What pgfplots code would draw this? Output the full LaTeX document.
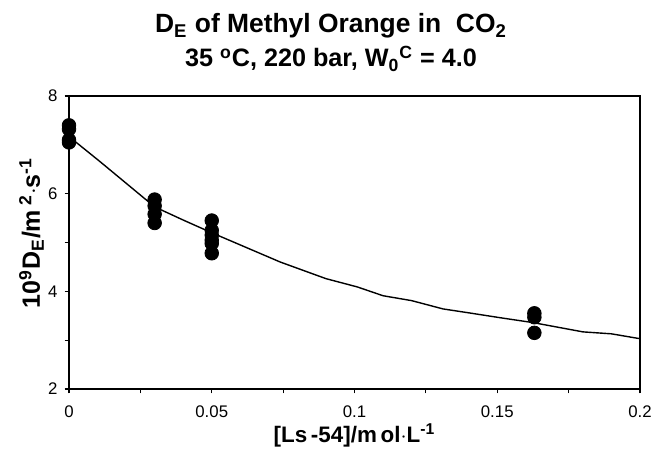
\documentclass[border=0pt]{standalone}
\usepackage{pgfplots}
\pgfplotsset{compat=1.18}
\usepackage{fontspec}
\setmainfont{Liberation Sans}

\begin{document}
\begin{tikzpicture}
\path[use as bounding box] (-34.5pt,-33.5pt) rectangle (292pt,194.5pt);
\begin{axis}[
    at={(0,0)}, anchor=south west,
    width=285.5pt, height=146.5pt,
    scale only axis,
    xmin=0, xmax=0.2,
    ymin=2, ymax=8,
    xtick={0,0.025,...,0.2},
    xticklabels={0,,0.05,,0.1,,0.15,,0.2},
    ytick={2,3,...,8},
    yticklabels={2,,4,,6,,8},
    tick align=outside,
    tick pos=left,
    major tick length=2.2pt,
    axis line style={line width=0.6pt},
    every tick/.style={black, line width=0.6pt},
    tick label style={font=\fontsize{8.4}{10}\selectfont},
    xticklabel style={yshift=-2.5pt},
    /pgf/number format/assume math mode=true,
    scaled x ticks=false,
    clip=false,
]
% fitted curve
\addplot[black, line width=0.7pt, no marks] coordinates {
(0,7.17) (0.011,6.65) (0.03,5.73) (0.04,5.46) (0.05,5.2) (0.074,4.6)
(0.09,4.26) (0.101,4.09) (0.11,3.91) (0.12,3.81) (0.131,3.64) (0.14,3.56)
(0.151,3.46) (0.1625,3.36) (0.18,3.17) (0.19,3.13) (0.2,3.03)
};
% measured points
\addplot[only marks, mark=*, mark size=3.4pt, black] coordinates {
(0,7.40) (0,7.32) (0,7.10) (0,7.05)
(0.03,5.88) (0.03,5.75) (0.03,5.58) (0.03,5.40)
(0.05,5.45) (0.05,5.25) (0.05,5.15) (0.05,5.05) (0.05,4.98) (0.05,4.78)
(0.163,3.55) (0.163,3.47) (0.163,3.15)
};
\end{axis}
% titles and axis labels
\node[font=\fontsize{13.2}{15}\bfseries, anchor=base] at (131pt,178pt) {D\textsubscript{E} of Methyl Orange in\ \ CO\textsubscript{2}};
\node[font=\fontsize{12.6}{15}\bfseries, anchor=base] at (131pt,161pt) {35 \textsuperscript{o}C, 220 bar, W\textsubscript{0}\textsuperscript{C} = 4.0};
\node[font=\fontsize{11.2}{13}\bfseries, anchor=base] at (142.75pt,-26.5pt) {[Ls\,-54]/m\,ol$\cdot$L\textsuperscript{-1}};
\node[font=\fontsize{12.5}{15}\bfseries, rotate=90, anchor=base] at (-14.5pt,78pt) {10\textsuperscript{9}D\textsubscript{E}/m\,\textsuperscript{2}$\cdot$s\textsuperscript{-1}};
\end{tikzpicture}
\end{document}
